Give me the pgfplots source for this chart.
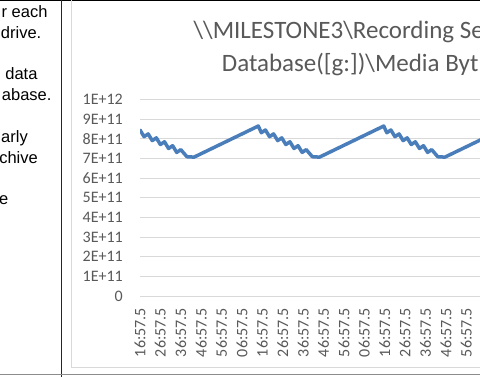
\documentclass[border=0pt]{standalone}
\usepackage{fontspec}
\setmainfont{Carlito}
\newfontfamily\arialfont{Liberation Sans}
\usepackage{pgfplots}
\pgfplotsset{compat=1.18}
\definecolor{txtgray}{RGB}{89,89,89}
\definecolor{gridgray}{RGB}{217,217,217}
\definecolor{serblue}{RGB}{74,126,187}
\begin{document}
\begin{tikzpicture}[x=1pt,y=1pt]
\useasboundingbox (0,0) rectangle (480,377);
\clip (0,0) rectangle (480,377);
\fill[white] (0,0) rectangle (480,377);
% page frame lines
\draw[black, line width=1.2pt] (0,376.4) -- (480,376.4);
\draw[black!85, line width=1pt] (61.7,0) -- (61.7,377);
\draw[black!45, line width=1.3pt] (0,2.3) -- (480,2.3);
% chart area border
\draw[gridgray, line width=0.9pt] (71,378) -- (71,9.5) -- (482,9.5);
% left text
\begin{scope}[every node/.style={inner sep=0pt, anchor=base east, font=\arialfont\fontsize{16.5}{19}\selectfont}]
\node at (47.7,359.7) {r each};
\node at (41.5,338.7) {drive.};
\node at (37.7,297) {data};
\node at (51.7,276.3) {abase.};
\node at (28,234.3) {arly};
\node at (38,213.7) {chive};
\node at (8.5,172) {e};
\end{scope}
% title
\node[anchor=base west, inner sep=0pt, text=txtgray, font=\fontsize{25}{29}\selectfont] at (193.3,338.7) {\textbackslash\textbackslash MILESTONE3\textbackslash Recording Se};
\node[anchor=base west, inner sep=0pt, text=txtgray, font=\fontsize{25}{29}\selectfont] at (221.7,305.3) {Database([g:])\textbackslash Media Byt};
\begin{axis}[
  at={(140pt,81pt)}, anchor=south west,
  scale only axis, width=360pt, height=196.7pt,
  xmin=0, xmax=176.5, ymin=0, ymax=1e12,
  axis line style={draw=none},
  tick style={draw=none},
  major tick length=0pt,
  ymajorgrids, major grid style={gridgray, line width=0.9pt},
  ytick={0,1e11,2e11,3e11,4e11,5e11,6e11,7e11,8e11,9e11,1e12},
  yticklabels={\mbox{0},\mbox{1E+11},\mbox{2E+11},\mbox{3E+11},\mbox{4E+11},\mbox{5E+11},\mbox{6E+11},\mbox{7E+11},\mbox{8E+11},\mbox{9E+11},\mbox{1E+12}},
  xtick={0,10,20,30,40,50,60,70,80,90,100,110,120,130,140,150,160},
  xticklabels={\mbox{16:57.5},\mbox{26:57.5},\mbox{36:57.5},\mbox{46:57.5},\mbox{56:57.5},\mbox{06:57.5},\mbox{16:57.5},\mbox{26:57.5},\mbox{36:57.5},\mbox{46:57.5},\mbox{56:57.5},\mbox{06:57.5},\mbox{16:57.5},\mbox{26:57.5},\mbox{36:57.5},\mbox{46:57.5},\mbox{56:57.5}},
  yticklabel style={anchor=east, inner sep=0pt, text=txtgray, font=\fontsize{16}{18}\selectfont},
  yticklabel shift=17pt,
  xticklabel style={rotate=90, anchor=east, inner sep=0pt, text=txtgray, font=\fontsize{16}{18}\selectfont},
  xticklabel shift=12pt,
  scaled y ticks=false,
]
\addplot[serblue, line width=3.5pt, line join=round, line cap=round] coordinates {
(0,8.44e11) (2,8.10e11) (4,8.24e11) (6,7.90e11) (8,8.04e11) (10,7.70e11) (12,7.84e11) (14,7.50e11) (16,7.64e11) (18,7.30e11) (20,7.44e11) (23,7.08e11) (26.5,7.06e11)
(58,8.64e11) (59.5,8.30e11) (61.5,8.44e11) (63.5,8.10e11) (65.5,8.24e11) (67.5,7.90e11) (69.5,8.04e11) (71.5,7.70e11) (73.5,7.84e11) (75.5,7.50e11) (77.5,7.64e11) (79.5,7.30e11) (81.5,7.44e11) (84.5,7.08e11) (88,7.06e11)
(119.5,8.64e11) (121,8.30e11) (123,8.44e11) (125,8.10e11) (127,8.24e11) (129,7.90e11) (131,8.04e11) (133,7.70e11) (135,7.84e11) (137,7.50e11) (139,7.64e11) (141,7.30e11) (143,7.44e11) (146,7.08e11) (149.5,7.06e11) (181,8.64e11)
};
\end{axis}
\end{tikzpicture}
\end{document}
